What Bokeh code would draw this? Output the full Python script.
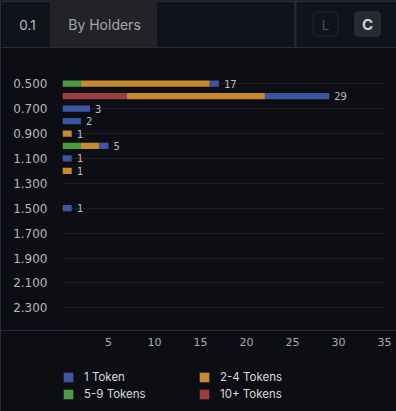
from bokeh.plotting import figure
from bokeh.layouts import row, column
from bokeh.models import (ColumnDataSource, FixedTicker, Range1d, Legend,
                          LegendItem, NumeralTickFormatter, Spacer)
from bokeh.core.properties import value
from bokeh.embed import file_html
from bokeh.resources import INLINE

# ---- data ----
prices = [0.5, 0.6, 0.7, 0.8, 0.9, 1.0, 1.1, 1.2, 1.3, 1.4,
          1.5, 1.6, 1.7, 1.8, 1.9, 2.0, 2.1, 2.2, 2.3, 2.4]
one_token = [1, 7, 3, 2, 0, 1, 1, 0, 0, 0, 1, 0, 0, 0, 0, 0, 0, 0, 0, 0]
two_four = [14, 15, 0, 0, 1, 2, 0, 1, 0, 0, 0, 0, 0, 0, 0, 0, 0, 0, 0, 0]
five_nine = [2, 0, 0, 0, 0, 2, 0, 0, 0, 0, 0, 0, 0, 0, 0, 0, 0, 0, 0, 0]
ten_plus = [0, 7, 0, 0, 0, 0, 0, 0, 0, 0, 0, 0, 0, 0, 0, 0, 0, 0, 0, 0]
y_ticks = [0.5, 0.7, 0.9, 1.1, 1.3, 1.5, 1.7, 1.9, 2.1, 2.3]
x_ticks = [5, 10, 15, 20, 25, 30, 35]
series_names = ["1 Token", "2-4 Tokens", "5-9 Tokens", "10+ Tokens"]
series_colors = ["#3e55a3", "#c88a30", "#4c9a3f", "#9c3d41"]

BG = "#0d0e13"
HEADER = "#10131a"
TAB = "#222327"
LINE = "#2a2d33"
FONT = "Inter"

totals = [a + b + c + d for a, b, c, d in zip(one_token, two_four, five_nine, ten_plus)]

source = ColumnDataSource(dict(price=prices, t1=one_token, t24=two_four,
                               t59=five_nine, t10=ten_plus))
lab_src = ColumnDataSource(dict(
    price=[p for p, t in zip(prices, totals) if t > 0],
    total=[t for t in totals if t > 0],
    text=[str(t) for t in totals if t > 0]))

stack_order = ["t59", "t10", "t24", "t1"]
stack_colors = [series_colors[2], series_colors[3], series_colors[1], series_colors[0]]

# ---- header ----
hdr = figure(width=395, height=48, x_range=Range1d(0, 395), y_range=Range1d(48, 0),
             output_backend="svg", toolbar_location=None, min_border=0)
hdr.background_fill_color = HEADER
hdr.border_fill_color = HEADER
hdr.outline_line_color = None
hdr.grid.visible = False
hdr.axis.visible = False
hdr.frame_align = False
hdr.quad(left=[0], right=[395], top=[0], bottom=[1], color=LINE)
hdr.quad(left=[49], right=[155], top=[1], bottom=[47], color=TAB)
hdr.quad(left=[0], right=[395], top=[47], bottom=[48], color=LINE)
hdr.quad(left=[293.5], right=[294.5], top=[0], bottom=[47], color=LINE)
hdr.quad(left=[311.5], right=[336.5], top=[11.5], bottom=[35.5], fill_color=HEADER,
         line_color="#23262d", line_width=1, border_radius=4)
hdr.quad(left=[353], right=[379], top=[11], bottom=[36], color="#262a31",
         border_radius=4)
hdr.text(x=[26], y=[24], text=["0.1"], text_align="center", text_baseline="middle",
         text_color="#b8bbc0", text_font=value(FONT), text_font_size="13.5px")
hdr.text(x=[103], y=[24], text=["By Holders"], text_align="center",
         text_baseline="middle", text_color="#a4a7ac", text_font=value(FONT),
         text_font_size="14px")
hdr.text(x=[324], y=[24], text=["L"], text_align="center", text_baseline="middle",
         text_color="#4d5055", text_font=value(FONT), text_font_size="13.5px")
hdr.text(x=[366], y=[24], text=["C"], text_align="center", text_baseline="middle",
         text_color="#d0d3d7", text_font=value(FONT), text_font_size="15px",
         text_font_style="bold")

# ---- main chart ----
x_range = Range1d(0, 35)
p = figure(width=395, height=282, output_backend="svg", toolbar_location=None,
           x_range=x_range, y_range=Range1d(2.45, 0.45),
           min_border_left=61, min_border_right=12, min_border_top=29,
           min_border_bottom=4)
p.background_fill_color = BG
p.border_fill_color = BG
p.outline_line_color = None

p.hbar_stack(stack_order, y="price", height=0.05, color=stack_colors,
             line_color=None, source=source)

p.text(x="total", y="price", text="text", source=lab_src, x_offset=5,
       text_baseline="middle", text_align="left", text_color="#b9bcc1",
       text_font=value("DejaVu Sans Mono"), text_font_size="10.5px")

p.yaxis.ticker = FixedTicker(ticks=y_ticks)
p.yaxis.formatter = NumeralTickFormatter(format="0.000")
p.yaxis.axis_line_color = None
p.yaxis.major_tick_line_color = None
p.yaxis.minor_tick_line_color = None
p.yaxis.major_tick_out = 0
p.yaxis.minor_tick_out = 0
p.yaxis.major_label_standoff = 15
p.yaxis.major_label_text_color = "#b4b7bc"
p.yaxis.major_label_text_font = "DejaVu Sans"
p.yaxis.major_label_text_font_size = "12px"
p.xaxis.visible = False

p.xgrid.grid_line_color = None
p.ygrid.grid_line_color = "#1d1f25"
p.ygrid.grid_line_width = 1

# ---- separator ----
sep = Spacer(width=395, height=1, styles={"background-color": LINE})

# ---- bottom: x axis + legend ----
bot = figure(width=395, height=80, x_range=x_range, y_range=Range1d(100, 101),
             x_axis_location="above", output_backend="svg", toolbar_location=None,
             min_border_left=61, min_border_right=12, min_border_top=39,
             min_border_bottom=0)
bot.background_fill_color = BG
bot.border_fill_color = BG
bot.outline_line_color = None
bot.grid.visible = False
bot.yaxis.visible = False
bot.xaxis.ticker = FixedTicker(ticks=x_ticks)
bot.xaxis.axis_line_color = None
bot.xaxis.major_tick_line_color = None
bot.xaxis.minor_tick_line_color = None
bot.xaxis.major_tick_out = 0
bot.xaxis.minor_tick_out = 0
bot.xaxis.major_label_standoff = 25
bot.xaxis.major_label_text_color = "#a9acb2"
bot.xaxis.major_label_text_font = "DejaVu Sans"
bot.xaxis.major_label_text_font_size = "11px"

# legend swatches (same stacked series, outside this panel's visible y range)
lrends = bot.hbar_stack(stack_order, y="price", height=0.05, color=stack_colors,
                        line_color=None, source=source)
lmap = dict(zip(stack_order, lrends))
order = [("1 Token", "t1"), ("5-9 Tokens", "t59"), ("2-4 Tokens", "t24"),
         ("10+ Tokens", "t10")]
legend = Legend(items=[LegendItem(label=n, renderers=[lmap[k]]) for n, k in order],
                ncols=2, location="top_left",
                glyph_width=12, glyph_height=12, label_height=12, label_width=111,
                label_standoff=10, spacing=3, padding=0, margin=0,
                border_line_color=None, background_fill_alpha=0,
                label_text_color="#d8dadd", label_text_font=FONT,
                label_text_font_size="11.5px")
bot.add_layout(legend, "center")

# ---- left border ----
edge = Spacer(width=1, height=411, styles={"background-color": LINE})

layout = row(edge, column(hdr, p, sep, bot, spacing=0,
                          styles={"background-color": BG}),
             spacing=0, styles={"background-color": BG})

open("out.html", "w").write(file_html(layout, INLINE))
